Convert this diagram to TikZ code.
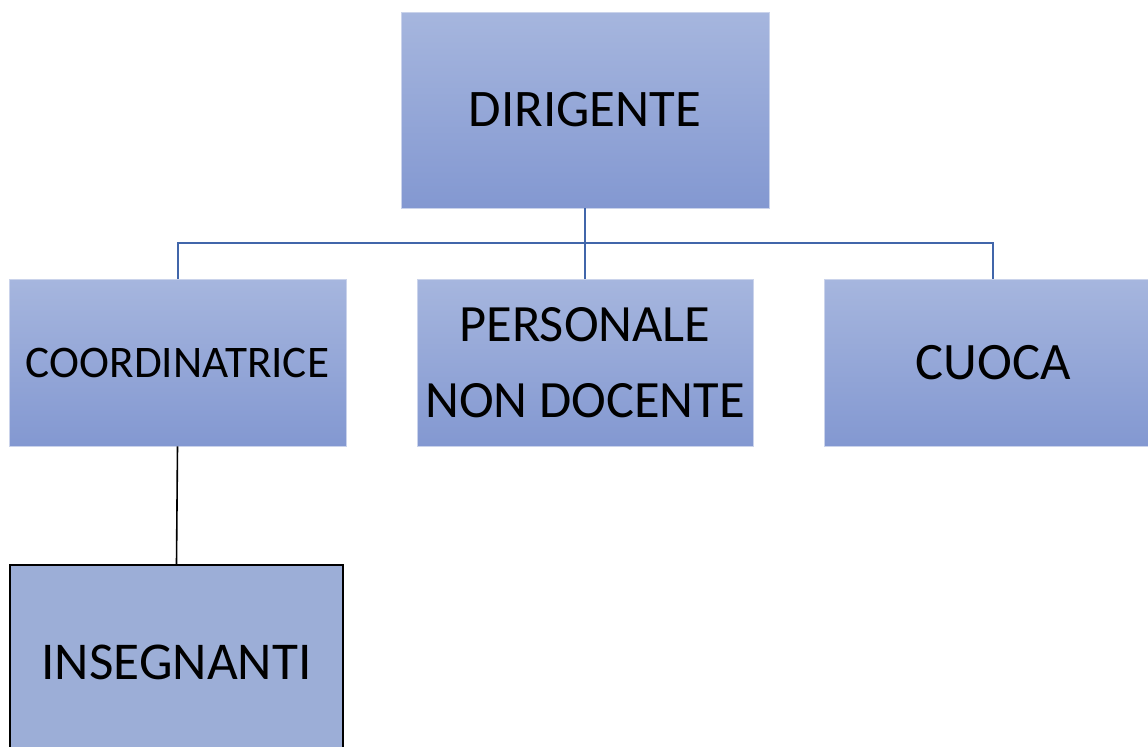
\documentclass[tikz,border=0pt]{standalone}
\usepackage{fontspec}
\setmainfont{Carlito}
\definecolor{boxtop}{HTML}{A6B6DE}
\definecolor{boxbot}{HTML}{8398D1}
\definecolor{boxflat}{HTML}{9CAED7}
\definecolor{busline}{HTML}{4166AA}
\tikzset{
  ruolo/.style={shading=axis, top color=boxtop, bottom color=boxbot, draw=boxtop!60!white, line width=0.4pt, inner sep=0pt, align=center, text=black},
  ramo/.style={draw=busline, line width=1pt},
}
\begin{document}
\begin{tikzpicture}[x=0.5pt, y=-0.5pt]
\useasboundingbox (0,0) rectangle (1148,746);
% Vertice
\node[ruolo, minimum width=184pt, minimum height=98pt, font=\fontsize{26.4}{31}\selectfont] (dir) at (585,110) {DIRIGENTE};

% Secondo livello
\node[ruolo, minimum width=168.5pt, minimum height=83.5pt, font=\fontsize{22.6}{27}\selectfont] (coord) at (177.5,362.5) {COORDINATRICE};
\node[ruolo, minimum width=168pt, minimum height=83.5pt, font=\fontsize{26.2}{38}\selectfont] (pers) at (585,362.5) {PERSONALE\\NON DOCENTE};
\node[ruolo, minimum width=168.5pt, minimum height=83.5pt, font=\fontsize{26.3}{31}\selectfont] (cuoca) at (993,362.5) {CUOCA};

% Insegnanti
\node[fill=boxflat, draw=black, line width=1pt, minimum width=166.5pt, minimum height=97pt, inner sep=0pt, font=\fontsize{26.6}{31}\selectfont] (ins) at (176.5,662) {INSEGNANTI};

% Collegamenti
\coordinate (bus) at (585,243);
\draw[ramo] (dir.south) -- (pers.north);
\draw[ramo] (coord.north) |- (bus) -| (cuoca.north);
\draw[black, line width=0.8pt] (coord.south) -- (ins.north);
\end{tikzpicture}
\end{document}
